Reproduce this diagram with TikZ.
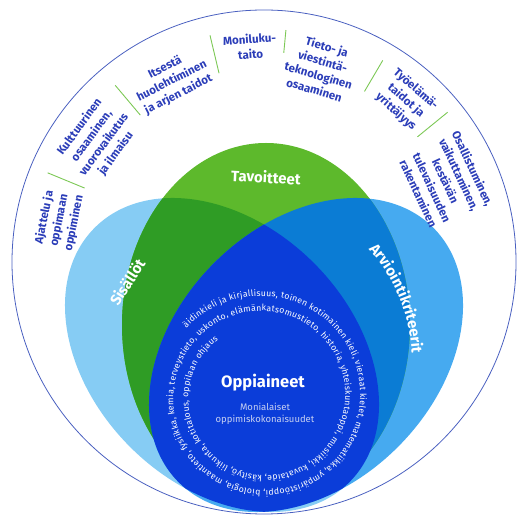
\documentclass[tikz,border=0pt]{standalone}
\usepackage{fontspec}
\setmainfont{Fira Sans}
\usetikzlibrary{decorations.text}

\definecolor{vsininen}{HTML}{86CCF4}
\definecolor{ssininen}{HTML}{46AAF0}
\definecolor{vihrea}{HTML}{5DB92C}
\definecolor{tvihrea}{HTML}{2F9C25}
\definecolor{keskisini}{HTML}{0B7CD4}
\definecolor{tummasini}{HTML}{0B3DD9}
\definecolor{tekstisini}{HTML}{2B3DB8}
\definecolor{viiva}{HTML}{7CC855}
\definecolor{ympyra}{HTML}{4A60C0}
\definecolor{vaalea}{HTML}{C6D0F2}

\begin{document}
\begin{tikzpicture}[x=1pt, y=1pt,
    ring/.style = {text=tekstisini, font=\bfseries\fontsize{11.5}{15}\selectfont, align=center, inner sep=0pt},
    otsikko/.style = {text=white, font=\bfseries\fontsize{15}{18}\selectfont},
    erotin/.style = {draw=viiva, line width=0.9pt},
    reuna/.style = {draw=ympyra, line width=0.8pt},
    sis/.style = {rotate around={-45:(222,161)}},
    arv/.style = {rotate around={45:(306,161)}}]
    \useasboundingbox (0,0) rectangle (518,516);
    \coordinate (c) at (264,254);
    \coordinate (s) at (222,161);
    \coordinate (a) at (306,161);
    \coordinate (t) at (266,191);
    \coordinate (o) at (263,119);
    \coordinate (k) at (244,154);

    \fill[vsininen, sis] (s) ellipse (180 and 130);
    \fill[ssininen, arv] (a) ellipse (180 and 130);
    \fill[vihrea] (t) ellipse (144 and 182);
    \begin{scope}
        \clip (t) ellipse (144 and 182);
        \fill[tvihrea, sis] (s) ellipse (180 and 130);
        \fill[keskisini, arv] (a) ellipse (180 and 130);
    \end{scope}
    \begin{scope}
        \clip[sis] (s) ellipse (180 and 130);
        \fill[tummasini, arv] (a) ellipse (180 and 130);
    \end{scope}

    \draw[reuna] (c) circle (252);
    \foreach \a/\ri/\ro in {157.6/194/234, 130.1/192/231, 103.4/194/233, 84.6/210/233, 59.5/198/234, 39.2/198/237}
        \draw[erotin] ([shift={(\a:\ri)}]c) -- ([shift={(\a:\ro)}]c);

    \node[ring, rotate=78.5] (k_1) at ([shift={(168.5:209)}]c) {Ajattelu ja\\oppimaan\\oppiminen};
    \node[ring, rotate=53.8] (k_2) at ([shift={(143.8:206)}]c) {Kulttuurinen\\osaaminen,\\vuorovaikutus\\ja ilmaisu};
    \node[ring, rotate=27] (k_3) at ([shift={(117:203)}]c) {Itsestä\\huolehtiminen\\ja arjen taidot};
    \node[ring, rotate=3.7] (k_4) at ([shift={(93.7:216)}]c) {Moniluku-\\taito};
    \node[ring, rotate=-16.3] (k_5) at ([shift={(73.7:202)}]c) {Tieto- ja\\viestintä-\\teknologinen\\osaaminen};
    \node[ring, rotate=-41.3] (k_6) at ([shift={(48.7:215)}]c) {Työelämä-\\taidot ja\\yrittäjyys};
    \node[ring, rotate=-65] (k_7) at ([shift={(24:199)}]c) {Osallistuminen,\\vaikuttaminen,\\kestävän\\tulevaisuuden\\rakentaminen};

    \node[otsikko, rotate=-3] (tav) at (266,339) {Tavoitteet};
    \node[otsikko, rotate=57] (sisl) at (127,234) {Sisällöt};
    \path[decorate, decoration={text along path, text align=center,
        text={|\bfseries\fontsize{15}{18}\selectfont\color{white}|Arviointikriteerit}}]
        ([shift={(47:168)}]k) arc (47:-2:168);

    \node[text=white, font=\bfseries\fontsize{16.5}{18}\selectfont] (opp) at (263,133) {Oppiaineet};
    \node[text=vaalea, font=\fontsize{9.5}{12}\selectfont, align=center] (moni) at (265,102) {Monialaiset\\oppimiskokonaisuudet};
    \path[shift={(o)}, decorate, decoration={text along path, text align={fit to path},
        text={|\fontsize{8.7}{9}\selectfont\color{white}|äidinkieli ja kirjallisuus, toinen kotimainen kieli, vieraat kielet, matematiikka, ympäristöoppi, biologia, maantieto, fysiikka, kemia, terveystieto, uskonto, elämänkatsomustieto, historia, yhteiskuntaoppi, musiikki, kuvataide, käsityö, liikunta, kotitalous, oppilaan ohjaus}}]
        plot[domain=0:730, samples=240] ({138-\x}:{103-\x/24});
\end{tikzpicture}
\end{document}
